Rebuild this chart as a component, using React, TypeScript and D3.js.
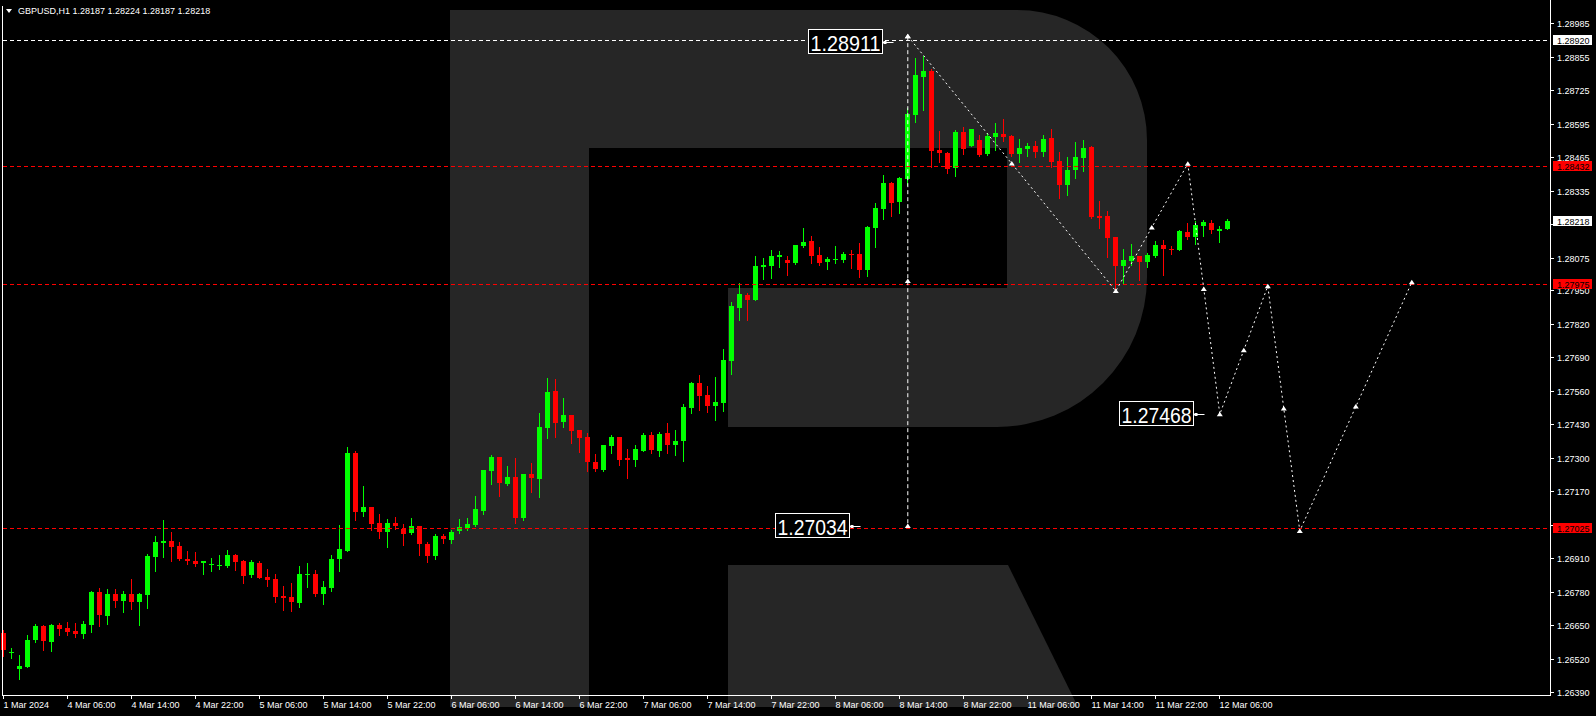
import React, { useEffect } from 'react';
import * as d3 from 'd3';

// GBPUSD H1, first bar 1 Mar 2024 22:00, last bar 12 Mar 2024 07:00
const open = [
  1.26619, 1.26543, 1.26480, 1.26488, 1.26592, 1.26646, 1.26585, 1.26650, 1.26638, 1.26627,
  1.26616, 1.26650, 1.26778, 1.26685, 1.26770, 1.26743, 1.26770, 1.26739, 1.26766, 1.26914,
  1.26968, 1.26976, 1.26957, 1.26906, 1.26898, 1.26891, 1.26884, 1.26880, 1.26879, 1.26922,
  1.26898, 1.26844, 1.26891, 1.26836, 1.26829, 1.26763, 1.26759, 1.26735, 1.26844, 1.26848,
  1.26770, 1.26794, 1.26906, 1.26937, 1.27317, 1.27088, 1.27108, 1.27046, 1.27011, 1.27046,
  1.27022, 1.27007, 1.27034, 1.26964, 1.26918, 1.26995, 1.26980, 1.27015, 1.27026, 1.27038,
  1.27092, 1.27248, 1.27302, 1.27197, 1.27224, 1.27065, 1.27236, 1.27217, 1.27414, 1.27558,
  1.27438, 1.27465, 1.27407, 1.27379, 1.27282, 1.27251, 1.27344, 1.27379, 1.27298, 1.27290,
  1.27325, 1.27387, 1.27325, 1.27395, 1.27348, 1.27364, 1.27492, 1.27589, 1.27542, 1.27501,
  1.27511, 1.27676, 1.27880, 1.27930, 1.27911, 1.28039, 1.28043, 1.28078, 1.28066, 1.28055,
  1.28121, 1.28140, 1.28086, 1.28058, 1.28067, 1.28066, 1.28090, 1.28090, 1.28027, 1.28190,
  1.28264, 1.28365, 1.28291, 1.28380, 1.28629, 1.28776, 1.28800, 1.28493, 1.28481, 1.28423,
  1.28563, 1.28508, 1.28532, 1.28477, 1.28543, 1.28555, 1.28547, 1.28477, 1.28497, 1.28508,
  1.28485, 1.28540, 1.28450, 1.28357, 1.28415, 1.28462, 1.28505, 1.28237, 1.28237, 1.28155,
  1.28043, 1.28062, 1.28082, 1.28058, 1.28082, 1.28124, 1.28109, 1.28105, 1.28175, 1.28155,
  1.28198, 1.28210, 1.28179, 1.28187,
];
const high = [
  1.26631, 1.26561, 1.26534, 1.26611, 1.26654, 1.26650, 1.26654, 1.26658, 1.26662, 1.26658,
  1.26666, 1.26782, 1.26794, 1.26790, 1.26790, 1.26782, 1.26829, 1.26774, 1.26926, 1.26995,
  1.27057, 1.27011, 1.26972, 1.26937, 1.26933, 1.26898, 1.26910, 1.26922, 1.26941, 1.26926,
  1.26902, 1.26902, 1.26898, 1.26867, 1.26848, 1.26801, 1.26813, 1.26879, 1.26891, 1.26863,
  1.26821, 1.26922, 1.27038, 1.27341, 1.27325, 1.27189, 1.27108, 1.27081, 1.27061, 1.27069,
  1.27042, 1.27065, 1.27034, 1.26972, 1.27003, 1.27003, 1.27019, 1.27061, 1.27065, 1.27151,
  1.27251, 1.27310, 1.27302, 1.27267, 1.27298, 1.27236, 1.27279, 1.27473, 1.27608, 1.27605,
  1.27531, 1.27465, 1.27407, 1.27395, 1.27313, 1.27348, 1.27387, 1.27379, 1.27333, 1.27348,
  1.27395, 1.27399, 1.27399, 1.27434, 1.27407, 1.27508, 1.27593, 1.27620, 1.27577, 1.27612,
  1.27721, 1.27903, 1.27977, 1.27938, 1.28082, 1.28074, 1.28105, 1.28101, 1.28082, 1.28124,
  1.28190, 1.28159, 1.28117, 1.28078, 1.28121, 1.28097, 1.28105, 1.28132, 1.28198, 1.28287,
  1.28396, 1.28369, 1.28388, 1.28656, 1.28850, 1.28858, 1.28807, 1.28567, 1.28485, 1.28571,
  1.28582, 1.28574, 1.28551, 1.28559, 1.28598, 1.28613, 1.28551, 1.28536, 1.28520, 1.28528,
  1.28551, 1.28574, 1.28485, 1.28466, 1.28524, 1.28532, 1.28508, 1.28295, 1.28256, 1.28155,
  1.28109, 1.28128, 1.28082, 1.28093, 1.28140, 1.28144, 1.28121, 1.28183, 1.28210, 1.28218,
  1.28221, 1.28221, 1.28198, 1.28224,
];
const low = [
  1.26530, 1.26523, 1.26442, 1.26487, 1.26585, 1.26554, 1.26550, 1.26612, 1.26611, 1.26605,
  1.26601, 1.26624, 1.26646, 1.26654, 1.26720, 1.26700, 1.26712, 1.26650, 1.26716, 1.26860,
  1.26914, 1.26898, 1.26902, 1.26887, 1.26879, 1.26848, 1.26860, 1.26867, 1.26875, 1.26863,
  1.26813, 1.26836, 1.26832, 1.26801, 1.26739, 1.26708, 1.26704, 1.26720, 1.26797, 1.26763,
  1.26731, 1.26782, 1.26860, 1.26937, 1.27057, 1.27073, 1.27019, 1.26988, 1.26953, 1.27022,
  1.26960, 1.27003, 1.26922, 1.26894, 1.26906, 1.26968, 1.26968, 1.27007, 1.27019, 1.27034,
  1.27081, 1.27197, 1.27151, 1.27193, 1.27046, 1.27057, 1.27166, 1.27147, 1.27376, 1.27379,
  1.27418, 1.27356, 1.27321, 1.27248, 1.27248, 1.27248, 1.27317, 1.27271, 1.27220, 1.27267,
  1.27325, 1.27317, 1.27306, 1.27317, 1.27310, 1.27286, 1.27473, 1.27484, 1.27478, 1.27445,
  1.27480, 1.27624, 1.27833, 1.27833, 1.27911, 1.27992, 1.27996, 1.28039, 1.28008, 1.28051,
  1.28117, 1.28055, 1.28047, 1.28031, 1.28055, 1.28058, 1.28035, 1.28000, 1.28004, 1.28117,
  1.28225, 1.28237, 1.28249, 1.28357, 1.28602, 1.28648, 1.28427, 1.28446, 1.28404, 1.28392,
  1.28477, 1.28508, 1.28470, 1.28474, 1.28493, 1.28528, 1.28470, 1.28446, 1.28470, 1.28466,
  1.28470, 1.28427, 1.28307, 1.28318, 1.28384, 1.28411, 1.28229, 1.28190, 1.28078, 1.27954,
  1.27977, 1.28047, 1.27989, 1.28039, 1.28078, 1.28008, 1.28090, 1.28105, 1.28148, 1.28128,
  1.28159, 1.28171, 1.28136, 1.28187,
];
const close = [
  1.26553, 1.26545, 1.26491, 1.26592, 1.26646, 1.26589, 1.26650, 1.26635, 1.26623, 1.26616,
  1.26654, 1.26778, 1.26689, 1.26770, 1.26743, 1.26770, 1.26739, 1.26770, 1.26919, 1.26972,
  1.26976, 1.26953, 1.26906, 1.26898, 1.26887, 1.26898, 1.26888, 1.26884, 1.26922, 1.26894,
  1.26840, 1.26894, 1.26832, 1.26825, 1.26759, 1.26755, 1.26739, 1.26848, 1.26849, 1.26770,
  1.26797, 1.26906, 1.26945, 1.27317, 1.27088, 1.27108, 1.27042, 1.27011, 1.27046, 1.27034,
  1.27003, 1.27034, 1.26964, 1.26918, 1.26995, 1.26984, 1.27011, 1.27030, 1.27042, 1.27100,
  1.27251, 1.27302, 1.27201, 1.27224, 1.27065, 1.27236, 1.27220, 1.27418, 1.27554, 1.27434,
  1.27465, 1.27403, 1.27376, 1.27282, 1.27255, 1.27348, 1.27379, 1.27290, 1.27290, 1.27333,
  1.27387, 1.27329, 1.27391, 1.27348, 1.27364, 1.27496, 1.27589, 1.27539, 1.27501, 1.27515,
  1.27678, 1.27888, 1.27934, 1.27911, 1.28043, 1.28047, 1.28082, 1.28086, 1.28055, 1.28124,
  1.28136, 1.28082, 1.28055, 1.28070, 1.28070, 1.28090, 1.28087, 1.28027, 1.28194, 1.28268,
  1.28365, 1.28287, 1.28384, 1.28633, 1.28784, 1.28800, 1.28489, 1.28481, 1.28419, 1.28563,
  1.28497, 1.28574, 1.28474, 1.28547, 1.28559, 1.28543, 1.28477, 1.28501, 1.28508, 1.28485,
  1.28536, 1.28446, 1.28357, 1.28415, 1.28466, 1.28501, 1.28233, 1.28229, 1.28152, 1.28043,
  1.28066, 1.28082, 1.28058, 1.28086, 1.28124, 1.28109, 1.28105, 1.28179, 1.28155, 1.28202,
  1.28214, 1.28183, 1.28187, 1.28218,
];

const timeTicks: [number, string][] = [
  [0, '1 Mar 2024'], [8, '4 Mar 06:00'], [16, '4 Mar 14:00'], [24, '4 Mar 22:00'],
  [32, '5 Mar 06:00'], [40, '5 Mar 14:00'], [48, '5 Mar 22:00'], [56, '6 Mar 06:00'],
  [64, '6 Mar 14:00'], [72, '6 Mar 22:00'], [80, '7 Mar 06:00'], [88, '7 Mar 14:00'],
  [96, '7 Mar 22:00'], [104, '8 Mar 06:00'], [112, '8 Mar 14:00'], [120, '8 Mar 22:00'],
  [128, '11 Mar 06:00'], [136, '11 Mar 14:00'], [144, '11 Mar 22:00'], [152, '12 Mar 06:00'],
];
const priceTicks = [
  1.28985, 1.28855, 1.28725, 1.28595, 1.28465, 1.28335, 1.28205, 1.28075, 1.2795, 1.2782,
  1.2769, 1.2756, 1.2743, 1.273, 1.2717, 1.2704, 1.2691, 1.2678, 1.2665, 1.2652, 1.2639,
];

const whiteLevel = 1.2892;
const redLevels = [1.28432, 1.27975, 1.27025];
const lastPrice = 1.28218;
const title = 'GBPUSD,H1  1.28187 1.28224 1.28187 1.28218';

// forecast path: [bar index, price]
const verticalLine: [number, number][] = [[113, 1.28935], [113, 1.27034]];
const zigzag: [number, number][] = [
  [113, 1.28935], [139, 1.27946], [148, 1.2844], [152, 1.27468],
  [158, 1.27965], [162, 1.27015], [176, 1.2798],
];
const callouts = [
  { text: '1.28911', bar: 109.8, price: 1.28911 },
  { text: '1.27034', bar: 105.7, price: 1.27034 },
  { text: '1.27468', bar: 148.7, price: 1.27468 },
];

const W = 1596;
const H = 716;
const RIGHT = 1550;
const BOTTOM = 695;
const UP = '#00ff00';
const DOWN = '#ff0000';
const FONT = "'Liberation Sans', Arial, sans-serif";

const x = d3.scaleLinear().domain([0, 1]).range([3.3, 11.3]);
const y = d3.scaleLinear().domain([1.2639, 1.28985]).range([692, 23.3]);

const fmt = (v: number) => v.toFixed(5);

function Marker({ cx, cy }: { cx: number; cy: number }) {
  return (
    <polygon
      points={`${cx - 3},${cy + 2} ${cx},${cy - 2.5} ${cx + 3},${cy + 2}`}
      fill="#fff"
    />
  );
}

export default function App() {
  useEffect(() => {
    document.body.style.margin = '0';
    document.body.style.background = '#000';
  }, []);

  const line = d3
    .line<[number, number]>()
    .x((d) => x(d[0]) + 0.5)
    .y((d) => y(d[1]));

  const markers: { cx: number; cy: number }[] = [];
  [verticalLine, zigzag].forEach((pts) => {
    pts.forEach((p, k) => {
      markers.push({ cx: x(p[0]) + 0.5, cy: y(p[1]) });
      if (k > 0) {
        const q = pts[k - 1];
        markers.push({ cx: x((p[0] + q[0]) / 2) + 0.5, cy: y((p[1] + q[1]) / 2) });
      }
    });
  });

  const hy = (v: number) => Math.round(y(v)) + 0.5;

  const boxes = [
    { v: whiteLevel, bg: '#fff' },
    ...redLevels.map((v) => ({ v, bg: '#ff0000' })),
    { v: lastPrice, bg: '#fff' },
  ];
  // tick labels fully covered by a price box are not drawn
  const hidden = (v: number) => boxes.some((b) => Math.abs(y(b.v) - y(v)) < 5);

  return (
    <svg width={W} height={H} style={{ display: 'block', background: '#000' }} fontFamily={FONT}>
      <rect x={0} y={0} width={W} height={H} fill="#000" />

      {/* watermark */}
      <g fill="#262626">
        <path d="M450,10 H1017 A130,130 0 0 1 1147,140 V277 A150,150 0 0 1 997,427 H728 V288 H1007 V148 H589 V707 H450 Z" />
        <path d="M728,565 H1008 L1078,707 H728 Z" />
      </g>

      {/* candles */}
      <g shapeRendering="crispEdges">
        {open.map((o, i) => {
          const c = close[i];
          const col = Math.floor(x(i));
          const yh = Math.round(y(high[i]));
          const yl = Math.round(y(low[i]));
          const yo = Math.round(y(o));
          const yc = Math.round(y(c));
          const color = c >= o ? UP : DOWN;
          const top = Math.min(yo, yc);
          const h = Math.max(1, Math.abs(yo - yc));
          return (
            <g key={i} fill={color}>
              <rect x={col} y={yh} width={1} height={Math.max(1, yl - yh + 1)} />
              <rect x={col - 2} y={top} width={5} height={h} />
            </g>
          );
        })}
      </g>

      {/* levels */}
      <g shapeRendering="crispEdges" strokeWidth={1}>
        <line x1={3} x2={RIGHT} y1={hy(whiteLevel)} y2={hy(whiteLevel)} stroke="#fff" strokeDasharray="4,3" />
        {redLevels.map((v) => (
          <line key={v} x1={3} x2={RIGHT} y1={hy(v)} y2={hy(v)} stroke="#ff0000" strokeDasharray="4,3" />
        ))}
      </g>

      {/* forecast */}
      <path d={line(verticalLine) || ''} fill="none" stroke="#fff" strokeDasharray="4,3" />
      <path d={line(zigzag) || ''} fill="none" stroke="#fff" strokeDasharray="2,3" />
      {markers.map((m, i) => (
        <Marker key={i} cx={m.cx} cy={m.cy} />
      ))}

      {callouts.map((c) => {
        const r = Math.round(x(c.bar)) + 0.5;
        const cy = Math.round(y(c.price));
        return (
          <g key={c.text}>
            <rect x={r - 74} y={cy - 12.5} width={74} height={24} fill="#000" stroke="#fff" strokeWidth={1} shapeRendering="crispEdges" />
            <text x={r - 72} y={cy + 9} fill="#fff" fontSize={22} textLength={70} lengthAdjust="spacingAndGlyphs">
              {c.text}
            </text>
            <line x1={r} x2={r + 11} y1={cy + 0.5} y2={cy + 0.5} stroke="#fff" />
            <rect x={r + 1} y={cy - 1} width={3} height={3} fill="#fff" />
          </g>
        );
      })}

      {/* frame */}
      <g stroke="#fff" strokeWidth={1} shapeRendering="crispEdges">
        <line x1={2.5} x2={2.5} y1={6} y2={BOTTOM + 0.5} />
        <line x1={RIGHT + 0.5} x2={RIGHT + 0.5} y1={0} y2={BOTTOM + 0.5} />
        <line x1={2} x2={RIGHT + 1} y1={BOTTOM + 0.5} y2={BOTTOM + 0.5} />
      </g>

      {/* price axis */}
      <g fontSize={9} fill="#fff">
        {priceTicks.map((v) => {
          const ty = Math.round(y(v)) + 0.5;
          return (
            <g key={v}>
              <line x1={RIGHT + 1} x2={RIGHT + 4} y1={ty} y2={ty} stroke="#fff" shapeRendering="crispEdges" />
              {!hidden(v) && <text x={1557} y={ty + 3.5}>{fmt(v)}</text>}
            </g>
          );
        })}
      </g>
      {boxes.map((b) => {
        const cy = Math.round(y(b.v));
        return (
          <g key={b.v}>
            <rect x={1553} y={cy - 5} width={39} height={10} fill={b.bg} shapeRendering="crispEdges" />
            <text x={1557} y={cy + 3.5} fontSize={9} fill="#000">{fmt(b.v)}</text>
          </g>
        );
      })}

      {/* time axis */}
      <g fontSize={9} fill="#fff">
        {timeTicks.map(([i, label]) => {
          const tx = Math.floor(x(i)) + 0.5;
          return (
            <g key={label}>
              <line x1={tx} x2={tx} y1={BOTTOM} y2={BOTTOM + 4} stroke="#fff" shapeRendering="crispEdges" />
              <text x={tx} y={708}>{label}</text>
            </g>
          );
        })}
      </g>

      {/* title */}
      <polygon points="6,9 12,9 9,13" fill="#fff" />
      <text x={18} y={14} fontSize={9} fill="#fff">{title}</text>
    </svg>
  );
}
